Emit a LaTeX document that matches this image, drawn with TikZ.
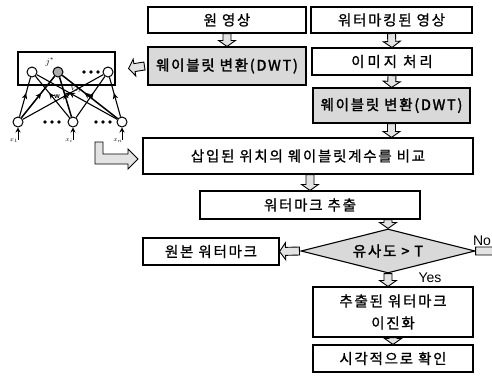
\documentclass[tikz,border=0pt]{standalone}
\usepackage{fontspec}
\setmainfont{Liberation Sans}
\newfontfamily\kr[LetterSpace=12,FakeBold=1]{Noto Sans CJK KR}
\newfontfamily\krwide[LetterSpace=20,FakeBold=1]{Noto Sans CJK KR}
\newfontfamily\krb[LetterSpace=12,FakeBold=2]{Noto Sans CJK KR}
\usetikzlibrary{shapes.geometric,calc,decorations.markings,arrows.meta}
\begin{document}
\begin{tikzpicture}[x=1pt,y=1pt,
  box/.style={draw, line width=1.1pt, inner sep=0pt, align=center,
    font={\kr\fontsize{14.5pt}{22pt}\selectfont}},
  gbox/.style={box, fill=gray!30, font={\krb\fontsize{14.5pt}{22pt}\selectfont}},
  dia/.style={diamond, draw, line width=1.1pt, fill=gray!30, inner sep=0pt,
    shape aspect=4, minimum width=174pt, minimum height=44pt,
    font={\krb\fontsize{14.5pt}{16pt}\selectfont}},
  blk/.style={draw=black, line width=0.9pt, fill=gray!22,
    to path={let \p1=(\tikztostart), \p2=(\tikztotarget),
      \n1={atan2(\y2-\y1,\x2-\x1)}, \n2={veclen(\x2-\x1,\y2-\y1)} in
      {[shift={(\p1)}, rotate=\n1]
       (0,-4) -- (\n2-6,-4) -- (\n2-6,-8.5) -- (\n2,0) -- (\n2-6,8.5) -- (\n2-6,4) -- (0,4) -- cycle}}},
  nc/.style={circle, draw, line width=1pt, fill=white, minimum size=10pt, inner sep=0pt},
  edge/.style={line width=1.1pt,
    decoration={markings, mark=at position 0.6 with {\arrow{Stealth[length=6pt,width=5.5pt]}}},
    postaction={decorate}},
  lbl/.style={font=\fontsize{14pt}{16pt}\selectfont, inner sep=0pt}
]
\useasboundingbox (0,0) rectangle (492,-378);

% ---- flow boxes ----
\node[box, minimum width=158pt, minimum height=26pt] (orig) at (227,-20) {원 영상};
\node[box, minimum width=161pt, minimum height=26pt] (wm) at (391.5,-20) {워터마킹된 영상};
\node[gbox, minimum width=158pt, minimum height=38pt] (dwt1) at (227,-66) {웨이블릿 변환(DWT)};
\node[box, minimum width=160pt, minimum height=27pt, font={\krwide\fontsize{14.5pt}{22pt}\selectfont}] (imgproc) at (392,-61.5) {이미지 처리};
\node[gbox, minimum width=157pt, minimum height=35pt] (dwt2) at (391.5,-105.5) {웨이블릿 변환(DWT)};
\node[box, minimum width=330pt, minimum height=36pt] (compare) at (308,-156) {삽입된 위치의 웨이블릿계수를 비교};
\node[box, minimum width=220pt, minimum height=28pt] (extract) at (310,-205) {워터마크 추출};
\node[dia] (dec) at (388,-251) {유사도 > T};
\node[box, minimum width=136pt, minimum height=27pt] (orgwm) at (211,-251.5) {원본 워터마크};
\node[box, minimum width=160pt, minimum height=50pt] (binar) at (393,-312) {추출된 워터마크\\이진화};
\node[box, minimum width=160pt, minimum height=27pt] (visual) at (393,-358.5) {시각적으로 확인};

\node[lbl] (yes) at (430,-278) {Yes};
\node[lbl] (no) at (482,-241) {No};

% ---- block arrows ----
\path[blk] (orig.south) to (dwt1.north);
\path[blk] (wm.south) to (imgproc.north);
\path[blk] (imgproc.south) to (dwt2.north);
\path[blk] (dwt2.south) to (dwt2.south |- compare.north);
\path[blk] (compare.south -| extract.north) to (extract.north);
\path[blk] (extract.south -| dec.north) to (dec.north);
\path[blk] (dec.south) to (dec.south |- binar.north);
\path[blk] (binar.south) to (visual.north);
\path[blk] ([xshift=-1pt]dec.west) to (orgwm.east);
\path[blk] (dec.east) to ([xshift=24pt]dec.east);

% ---- network ----
\node[draw, line width=1.1pt, minimum width=97pt, minimum height=33pt, inner sep=0pt] (netbox) at (66.5,-68.5) {};
\path[blk] ([xshift=-3pt]dwt1.west) to ([xshift=13pt]netbox.east);

\node[nc] (h1) at (32,-72) {};
\node[nc, fill=gray!65] (hj) at (58,-72) {};
\node[nc] (hn) at (108,-72) {};
\node[nc] (x1) at (18,-122) {};
\node[nc] (xi) at (73,-122) {};
\node[nc] (xn) at (122,-122) {};
\foreach \xx in {84,91,98} \fill (\xx,-72) circle (1.8);
\foreach \xx in {45,52,59, 96,103,110} \fill (\xx,-122) circle (1.8);

\node[inner sep=0pt, font=\fontsize{9pt}{10pt}\selectfont] (jstar) at (50,-62) {$j^*$};
\node[inner sep=0pt, font=\fontsize{7pt}{8pt}\selectfont] (wlab) at (57,-97) {$\mathbf{w}$};
\node[inner sep=0pt, font=\fontsize{7pt}{8pt}\selectfont] (vlab) at (76,-89) {$V_{ij}$};

\foreach \a in {x1,xi,xn} {
  \draw[edge] (\a) -- (h1);
  \draw[edge] (\a) -- (hn);
  \draw[edge, line width=1.5pt] (\a) -- (hj);
}

\coordinate (b1) at (18,-140);
\coordinate (bi) at (73,-140);
\coordinate (bn) at (122,-140);
\draw[line width=1pt, -{Stealth[length=5pt,width=5pt]}] (b1) -- (x1);
\draw[line width=1pt, -{Stealth[length=5pt,width=5pt]}] (bi) -- (xi);
\draw[line width=1pt, -{Stealth[length=5pt,width=5pt]}] (bn) -- (xn);
\node[inner sep=0pt, font=\fontsize{6pt}{7pt}\selectfont] (lx1) at (14,-141) {$x_1$};
\node[inner sep=0pt, font=\fontsize{6pt}{7pt}\selectfont] (lxi) at (69,-141) {$x_i$};
\node[inner sep=0pt, font=\fontsize{6pt}{7pt}\selectfont] (lxn) at (118,-141) {$x_n$};

% L-shaped block arrow into compare box
\draw[line width=0.9pt, fill=gray!22] (95,-142) -- (103,-142) -- (103,-154) -- (128,-154) -- (128,-149)
  -- (138,-159) -- (128,-169) -- (128,-164) -- (95,-164) -- cycle;
\end{tikzpicture}
\end{document}
